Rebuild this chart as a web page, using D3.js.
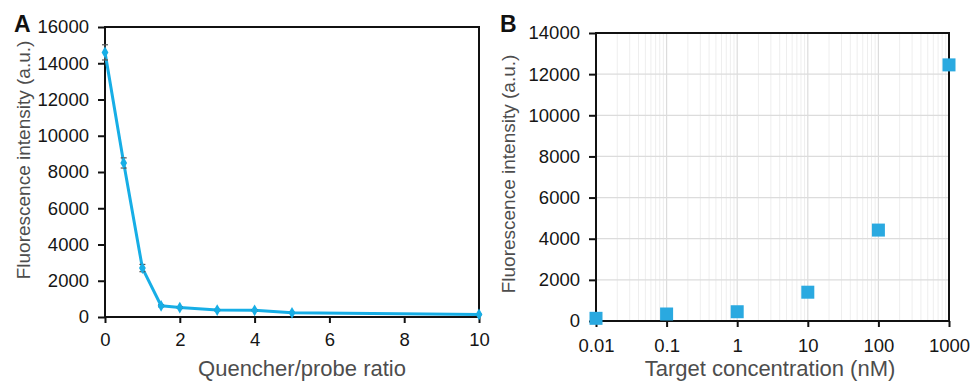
<!DOCTYPE html>
<html>
<head>
<meta charset="utf-8">
<script src="https://cdn.jsdelivr.net/npm/d3@7"></script>
<style>
  body { margin: 0; background: #fff; }
  svg text { font-family: "Liberation Sans", Arial, sans-serif; }
</style>
</head>
<body>
<svg id="chart" width="973" height="384"></svg>
<script>
// Panel A: quencher/probe ratio titration
const ratioX      = [0, 0.5, 1, 1.5, 2, 3, 4, 5, 10];
const ratioY      = [14600, 8500, 2700, 620, 520, 380, 370, 230, 140];
const ratioErr    = [420, 280, 200, 60, 50, 40, 40, 30, 20];
const ratioTicksX = [0, 2, 4, 6, 8, 10];
const ratioTicksY = [0, 2000, 4000, 6000, 8000, 10000, 12000, 14000, 16000];

// Panel B: target concentration response
const concX      = [0.01, 0.1, 1, 10, 100, 1000];
const concY      = [130, 340, 450, 1400, 4420, 12450];
const concTicksX = [0.01, 0.1, 1, 10, 100, 1000];
const concTicksY = [0, 2000, 4000, 6000, 8000, 10000, 12000, 14000];

const blue = "#17aee6";
const svg = d3.select("#chart");

// draw frame + ticks for a panel
function drawAxes(g, x, y, xTicks, yTicks, xFmt, xPad) {
  const w = x.range()[1] - x.range()[0];
  const h = y.range()[0] - y.range()[1];

  const xa = g.append("g").attr("transform", `translate(0,${h})`)
    .call(d3.axisBottom(x).tickValues(xTicks).tickSize(6).tickPadding(xPad).tickFormat(xFmt));
  const ya = g.append("g")
    .call(d3.axisLeft(y).tickValues(yTicks).tickSize(7).tickPadding(9).tickFormat(d3.format("d")));

  [xa, ya].forEach(a => {
    a.select(".domain").remove();
    a.selectAll(".tick line").attr("stroke", "#111").attr("stroke-width", 2);
    a.selectAll(".tick text").attr("fill", "#151515").style("font-size", "18.5px");
  });

  g.append("rect")
    .attr("width", w).attr("height", h)
    .attr("fill", "none").attr("stroke", "#111").attr("stroke-width", 2);
}

// ---------------- Panel A ----------------
const gA = svg.append("g").attr("transform", "translate(105,27)");
const xA = d3.scaleLinear().domain([0, 10]).range([0, 374]);
const yA = d3.scaleLinear().domain([0, 16000]).range([290, 0]);

drawAxes(gA, xA, yA, ratioTicksX, ratioTicksY, d3.format("d"), 10);

const ptsA = ratioX.map((v, i) => ({ x: v, y: ratioY[i], e: ratioErr[i] }));

gA.append("path")
  .datum(ptsA)
  .attr("fill", "none")
  .attr("stroke", blue)
  .attr("stroke-width", 3)
  .attr("stroke-linejoin", "round")
  .attr("d", d3.line().x(d => xA(d.x)).y(d => yA(d.y)));

// error bars
const eb = gA.append("g").attr("stroke", "#555").attr("stroke-width", 1.2);
ptsA.forEach(d => {
  const cx = xA(d.x), y0 = yA(d.y - d.e), y1 = yA(d.y + d.e);
  eb.append("line").attr("x1", cx).attr("x2", cx).attr("y1", y0).attr("y2", y1);
  eb.append("line").attr("x1", cx - 3).attr("x2", cx + 3).attr("y1", y0).attr("y2", y0);
  eb.append("line").attr("x1", cx - 3).attr("x2", cx + 3).attr("y1", y1).attr("y2", y1);
});

gA.selectAll(".pt")
  .data(ptsA)
  .join("path")
  .attr("class", "pt")
  .attr("transform", d => `translate(${xA(d.x)},${yA(d.y)})`)
  .attr("d", d3.symbol(d3.symbolDiamond, 40))
  .attr("fill", blue);

svg.append("text").attr("x", 14).attr("y", 32)
  .attr("font-weight", "bold").style("font-size", "23px").attr("fill", "#111").text("A");

svg.append("text")
  .attr("transform", "translate(30,160) rotate(-90)")
  .attr("text-anchor", "middle").style("font-size", "19px").attr("fill", "#4d4d4d")
  .text("Fluorescence intensity (a.u.)");

svg.append("text").attr("x", 302).attr("y", 376)
  .attr("text-anchor", "middle").style("font-size", "22px").attr("fill", "#4d4d4d")
  .text("Quencher/probe ratio");

// ---------------- Panel B ----------------
const gB = svg.append("g").attr("transform", "translate(596,33)");
const xB = d3.scaleLog().domain([0.01, 1000]).range([0, 353]);
const yB = d3.scaleLinear().domain([0, 14000]).range([288, 0]);

// grid: minor log lines, decade lines, horizontal lines
const minor = [];
for (let p = -2; p < 3; p++) for (let k = 2; k <= 9; k++) minor.push(k * Math.pow(10, p));

gB.append("g").selectAll("line").data(minor).join("line")
  .attr("x1", d => xB(d)).attr("x2", d => xB(d))
  .attr("y1", 0).attr("y2", 288)
  .attr("stroke", "#eeeeee").attr("stroke-width", 1);

gB.append("g").selectAll("line").data(concTicksX).join("line")
  .attr("x1", d => xB(d)).attr("x2", d => xB(d))
  .attr("y1", 0).attr("y2", 288)
  .attr("stroke", "#dcdcdc").attr("stroke-width", 1.2);

gB.append("g").selectAll("line").data(concTicksY).join("line")
  .attr("x1", 0).attr("x2", 353)
  .attr("y1", d => yB(d)).attr("y2", d => yB(d))
  .attr("stroke", "#dcdcdc").attr("stroke-width", 1.2);

drawAxes(gB, xB, yB, concTicksX, concTicksY, d => String(d), 12);

gB.selectAll(".sq")
  .data(concX.map((v, i) => ({ x: v, y: concY[i] })))
  .join("rect")
  .attr("class", "sq")
  .attr("x", d => xB(d.x) - 6.5).attr("y", d => yB(d.y) - 6.5)
  .attr("width", 13).attr("height", 13)
  .attr("fill", "#2aa9e0");

svg.append("text").attr("x", 500).attr("y", 32)
  .attr("font-weight", "bold").style("font-size", "23px").attr("fill", "#111").text("B");

svg.append("text")
  .attr("transform", "translate(515,174) rotate(-90)")
  .attr("text-anchor", "middle").style("font-size", "19px").attr("fill", "#4d4d4d")
  .text("Fluorescence intensity (a.u.)");

svg.append("text").attr("x", 770).attr("y", 376)
  .attr("text-anchor", "middle").style("font-size", "22px").attr("fill", "#4d4d4d")
  .text("Target concentration (nM)");
</script>
</body>
</html>
